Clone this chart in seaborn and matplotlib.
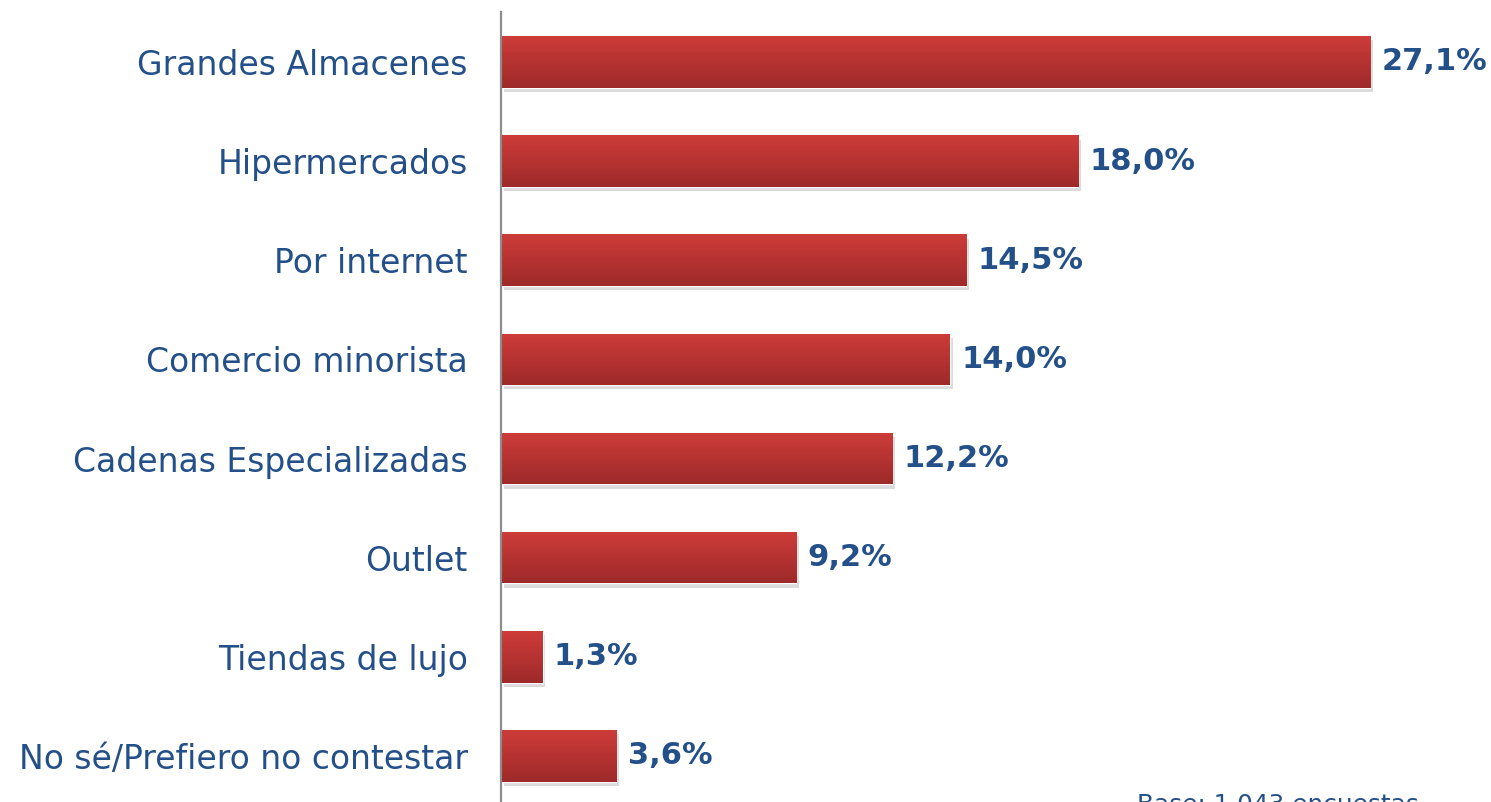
import numpy as np
import pandas as pd
import seaborn as sns
import matplotlib.pyplot as plt
import matplotlib.patheffects as pe

# datos
categorias = ["Grandes Almacenes", "Hipermercados", "Por internet", "Comercio minorista",
              "Cadenas Especializadas", "Outlet", "Tiendas de lujo", "No sé/Prefiero no contestar"]
porcentajes = [27.1, 18.0, 14.5, 14.0, 12.2, 9.2, 1.3, 3.6]
nota = "Base: 1.043 encuestas"

azul = "#24508A"
rojo_sup = np.array([205, 60, 57]) / 255
rojo_inf = np.array([158, 42, 42]) / 255

sns.set_style("white")
plt.rcParams['font.family'] = ['DejaVu Sans']

df = pd.DataFrame({"canal": categorias, "pct": porcentajes})

fig = plt.figure(figsize=(14.91, 8.02), dpi=100)
ax = fig.add_axes([501 / 1491, 0, 990 / 1491, 790 / 802])

sns.barplot(data=df, x="pct", y="canal", orient="h", color=rojo_sup, width=0.52,
            saturation=1, ax=ax)

# degradado + sombra
grad = np.linspace(0, 1, 64)[:, None, None]
img = rojo_sup * (1 - grad) + rojo_inf * grad
for p in ax.patches:
    p.set_path_effects([pe.SimplePatchShadow(offset=(2, -3), shadow_rgbFace="#9a9a9a", alpha=0.35),
                        pe.Normal()])
    x0, y0 = p.get_x(), p.get_y()
    w, h = p.get_width(), p.get_height()
    im = ax.imshow(img, extent=[x0, x0 + w, y0 + h, y0], aspect="auto", zorder=3,
                   interpolation="bilinear")
    im.set_clip_path(p)

ax.set_ylim(7.464, -0.504)
ax.set_xlim(0, 990 / 32.07)

ax.bar_label(ax.containers[0], labels=[f"{v:.1f}%".replace(".", ",") for v in porcentajes],
             padding=8, fontsize=22, fontweight="bold", color=azul)

ax.set_xlabel("")
ax.set_ylabel("")
ax.set_xticks([])
ax.tick_params(axis="y", length=0, pad=24, labelsize=23.8, labelcolor=azul)
for s in ["top", "right", "bottom"]:
    ax.spines[s].set_visible(False)
ax.spines["left"].set_color("#8c8c8c")
ax.spines["left"].set_linewidth(1.6)
ax.spines["left"].set_zorder(5)

fig.text(1137 / 1491, 9 / 802, nota, va="top", ha="left", fontsize=17.8, color=azul)

fig.savefig("out.png", dpi=100)
